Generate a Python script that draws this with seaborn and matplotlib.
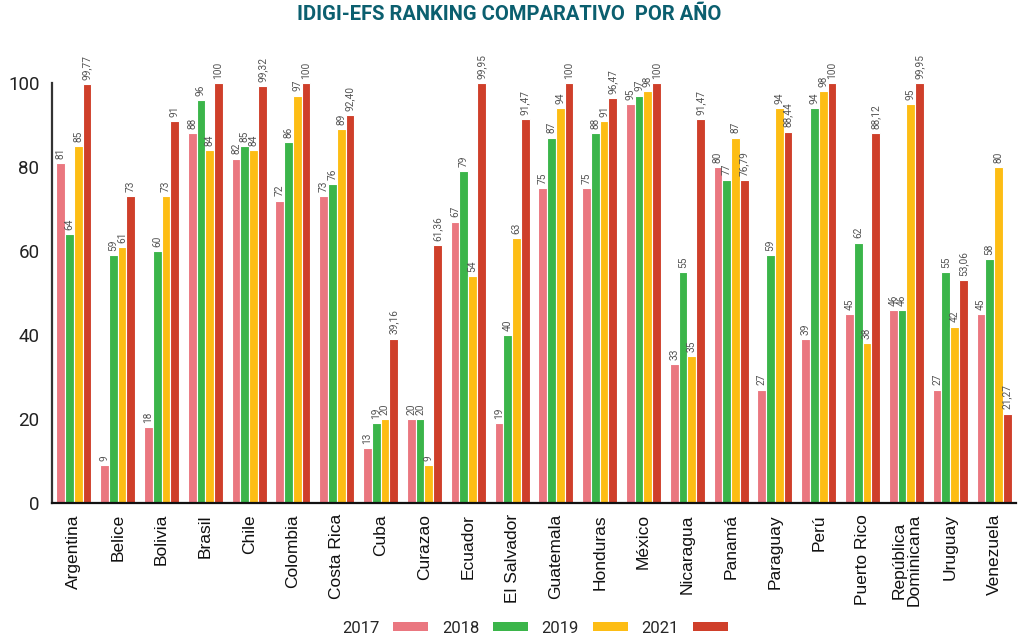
import matplotlib
matplotlib.use("Agg")
import matplotlib.pyplot as plt
import seaborn as sns
import pandas as pd
import numpy as np
from matplotlib.patches import Patch

countries = ["Argentina", "Belice", "Bolivia", "Brasil", "Chile", "Colombia", "Costa Rica",
             "Cuba", "Curazao", "Ecuador", "El Salvador", "Guatemala", "Honduras", "México",
             "Nicaragua", "Panamá", "Paraguay", "Perú", "Puerto Rico", "República\nDominicana",
             "Uruguay", "Venezuela"]
years = ["2017", "2018", "2019", "2021"]
v2017 = [81, 9, 18, 88, 82, 72, 73, 13, 20, 67, 19, 75, 75, 95, 33, 80, 27, 39, 45, 46, 27, 45]
v2018 = [64, 59, 60, 96, 85, 86, 76, 19, 20, 79, 40, 87, 88, 97, 55, 77, 59, 94, 62, 46, 55, 58]
v2019 = [85, 61, 73, 84, 84, 97, 89, 20, 9, 54, 63, 94, 91, 98, 35, 87, 94, 98, 38, 95, 42, 80]
v2021 = [99.77, 73, 91, 100, 99.32, 100, 92.40, 39.16, 61.36, 99.95, 91.47, 100, 96.47, 100,
         91.47, 76.79, 88.44, 100, 88.12, 99.95, 53.06, 21.27]
colors = ["#EA7780", "#3BB54A", "#FDBD14", "#CF3F2A"]

series = [v2017, v2018, v2019, v2021]
rows = []
for y, vals in zip(years, series):
    for c, v in zip(countries, vals):
        rows.append({"country": c, "year": y, "value": v})
df = pd.DataFrame(rows)

def fmt(v):
    if float(v).is_integer():
        return str(int(v))
    return f"{v:.2f}".replace(".", ",")

sns.set_style("white")
plt.rcParams["font.family"] = ["Roboto", "DejaVu Sans"]

fig = plt.figure(figsize=(10.19, 6.41), dpi=100)
ax = fig.add_axes([0.051, 0.2153, 0.946, 0.6552])

sns.barplot(data=df, x="country", y="value", hue="year", palette=colors, order=countries,
            hue_order=years, width=0.8, edgecolor="white", linewidth=0.8, saturation=1,
            errorbar=None, ax=ax, legend=False)

for cont, vals in zip(ax.containers, series):
    ax.bar_label(cont, labels=[fmt(v) for v in vals], rotation=90, padding=3,
                 fontsize=7.3, color="#555555", clip_on=False)

ax.set_ylim(0, 100)
ax.set_xlim(-0.5, len(countries) - 0.5)
ax.set_yticks([0, 20, 40, 60, 80, 100])
ax.set_xlabel("")
ax.set_ylabel("")
ax.tick_params(axis="y", direction="in", length=5, width=1.5, labelsize=13.5,
               labelcolor="#222222", color="#333333", pad=9)
ax.tick_params(axis="x", which="major", length=0, pad=8)
ax.set_xticks(np.arange(len(countries)))
ax.set_xticklabels(countries, rotation=90, fontsize=12.5, family=["Liberation Sans", "DejaVu Sans"],
                   color="#111111", linespacing=1.0)
ax.set_xticks(np.arange(len(countries) - 1) + 0.5, minor=True)
ax.tick_params(axis="x", which="minor", direction="in", length=5, width=1.3, color="#222222")
for s in ["top", "right"]:
    ax.spines[s].set_visible(False)
ax.spines["left"].set_color("#333333")
ax.spines["left"].set_linewidth(1.6)
ax.spines["bottom"].set_color("#111111")
ax.spines["bottom"].set_linewidth(1.6)

fig.text(0.5, 0.977, "IDIGI-EFS RANKING COMPARATIVO  POR AÑO", ha="center", va="center",
         fontsize=14.5, fontweight="bold", color="#0B5F6F")

handles = [Patch(facecolor=c, edgecolor="none") for c in colors]
fig.legend(handles, years, loc="center", bbox_to_anchor=(0.525, 0.02), ncol=4, frameon=False,
           markerfirst=False, handlelength=2.1, handleheight=0.45, fontsize=12,
           columnspacing=0.8, handletextpad=0.85)

fig.savefig("out.png", dpi=100)
